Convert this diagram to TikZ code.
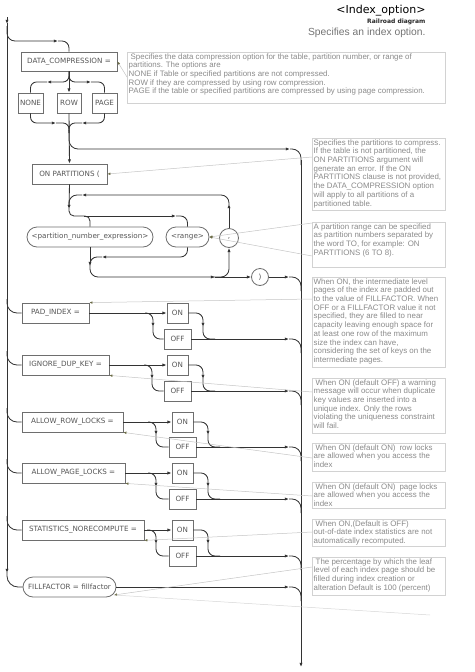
\documentclass[tikz,border=0pt]{standalone}
\usepackage{fontspec}
\setmainfont{DejaVu Sans}
\newfontfamily\notefont{Liberation Sans}
\usetikzlibrary{arrows.meta,shapes.misc}
\definecolor{railc}{HTML}{333333}
\definecolor{boxc}{HTML}{6E6E6E}
\definecolor{boxt}{HTML}{555555}
\definecolor{notec}{HTML}{D2D2D2}
\definecolor{notet}{HTML}{8A8A8A}
\definecolor{connc}{HTML}{C4C4C4}
\definecolor{arrc}{HTML}{6B6B45}
\begin{document}
\begin{tikzpicture}[x=1pt,y=-1pt,
  >={Latex[length=4.2pt,width=3.3pt]},
  rail/.style={draw=railc,line width=0.85pt},
  term/.style={draw=boxc,line width=0.8pt,text=boxt,font=\fontsize{7.2}{8}\selectfont,inner sep=0pt,minimum height=20pt},
  pill/.style={term,rounded rectangle},
  ring/.style={term,circle,minimum size=#1},
  notebox/.style={draw=notec,line width=0.6pt,inner sep=0pt,anchor=north west},
  notetext/.style={font=\notefont\fontsize{7.9}{8.7}\selectfont,text=notet,align=left,inner xsep=1.5pt,inner ysep=1.2pt,anchor=north west},
  conn/.style={draw=connc,line width=0.5pt,-{Latex[length=3pt,width=2.6pt,color=arrc]}}]
\useasboundingbox (0,0) rectangle (474,672);

% titles
\node[anchor=east,font=\fontsize{11}{13}\selectfont] (title) at (429,11) {<Index\_option>};
\node[anchor=east,font=\bfseries\fontsize{6}{7}\selectfont,text=black!85] (sub) at (429,22) {Railroad diagram};
\node[anchor=east,font=\notefont\fontsize{10.3}{12}\selectfont,text=black!55] (desc) at (429,33) {Specifies an index option.};

% terms
\node[term,minimum width=96pt,minimum height=19pt] (dc) at (69,61.5) {DATA\_COMPRESSION =};
\node[term,minimum width=25pt] (none) at (30.5,103) {NONE};
\node[term,minimum width=24pt] (row) at (69,103) {ROW};
\node[term,minimum width=25pt] (page) at (104.5,103) {PAGE};
\node[term,minimum width=75pt] (onp) at (69.5,174) {ON PARTITIONS (};
\node[pill,minimum width=126pt] (pne) at (90,237) {<partition\_number\_expression>};
\node[pill,minimum width=43pt] (range) at (187.5,237) {<range>};
\node[ring=19pt] (comma) at (229,238) {,};
\node[ring=17pt] (paren) at (260,277) {)};

\node[term,minimum width=67pt] (pad) at (55.5,313) {PAD\_INDEX =};
\node[term,minimum width=21pt] (on1) at (177.5,313) {ON};
\node[term,minimum width=27pt] (off1) at (177.5,339) {OFF};
\node[term,minimum width=87pt] (idk) at (65.5,365) {IGNORE\_DUP\_KEY =};
\node[term,minimum width=21pt] (on2) at (177.5,365) {ON};
\node[term,minimum width=27pt] (off2) at (177.5,391) {OFF};
\node[term,minimum width=101pt] (arl) at (72.5,422) {ALLOW\_ROW\_LOCKS =};
\node[term,minimum width=21pt] (on3) at (182.5,422) {ON};
\node[term,minimum width=27pt] (off3) at (182.5,447) {OFF};
\node[term,minimum width=103pt] (apl) at (73.5,473) {ALLOW\_PAGE\_LOCKS =};
\node[term,minimum width=21pt] (on4) at (182.5,473) {ON};
\node[term,minimum width=27pt] (off4) at (182.5,499) {OFF};
\node[term,minimum width=122pt] (stat) at (83,530) {STATISTICS\_NORECOMPUTE =};
\node[term,minimum width=21pt] (on5) at (182.5,530) {ON};
\node[term,minimum width=27pt] (off5) at (182.5,556) {OFF};
\node[pill,minimum width=93pt] (fill) at (69.5,587) {FILLFACTOR = fillfactor};

% main lines
\coordinate (Ltop) at (7,17);
\coordinate (Rend) at (301,667);
\draw[rail,->] (Ltop) -- (7,24);
\draw[rail,->] (7,23) -- (7,573);
\draw[rail,rounded corners=11pt] (7,572) |- (fill.west);
\draw[rail,->] (301,160) -- (Rend);

% data compression
\draw[rail,rounded corners=8pt,->] (7,26) |- (58,41);
\draw[rail,rounded corners=7pt] (58,41) -| (dc.north);
\draw[rail,rounded corners=6pt,->] (dc.south) |- (47,82);
\draw[rail,rounded corners=6pt] (47,82) -| (none.north);
\draw[rail,->] (dc.south) -- (row.north);
\draw[rail,rounded corners=6pt,->] (dc.south) |- (91,82);
\draw[rail,rounded corners=6pt] (91,82) -| (page.north);
\draw[rail,rounded corners=6pt,->] (none.south) |- (56,123);
\draw[rail,rounded corners=6pt] (56,123) -| (69,133);
\draw[rail,rounded corners=6pt,->] (page.south) |- (82,123);
\draw[rail,rounded corners=6pt] (82,123) -| (69,133);
\draw[rail,->] (row.south) -- (onp.north);
\draw[rail,rounded corners=9pt,->] (69,130) |- (290,149);
\draw[rail,rounded corners=9pt] (290,149) -| (301,165);

% partitions loop
\draw[rail,->] (onp.south) -- (69,209);
\draw[rail,rounded corners=5pt] (69,208) |- (90,216) -- (pne.north);
\draw[rail,->] (84,216) -- (176,216);
\draw[rail,rounded corners=7pt] (176,216) -| (range.north);
\draw[rail,->] (comma.north) -- (229,204);
\draw[rail,rounded corners=8pt,->] (229,205) |- (82,195);
\draw[rail,rounded corners=8pt] (82,195) -| (69,207);
\draw[rail] (pne.south) -- (90,258);
\draw[rail,rounded corners=7pt,->] (range.south) |- (102,257);
\draw[rail,rounded corners=7pt] (102,257) -| (90,265);
\draw[rail,->] (90,258) -- (90,266);
\draw[rail,rounded corners=8pt,->] (90,265) |- (215,277);
\draw[rail,->] (215,277) -- (paren.west);
\draw[rail,rounded corners=8pt,->] (213,277) -| (comma.south);
\draw[rail,->] (paren.east) -- (289,277);
\draw[rail,rounded corners=9pt] (289,277) -| (301,291);

% options
\draw[rail,rounded corners=10pt] (7,299) |- (pad.west);
\draw[rail,->] (pad.east) -- (on1.west);
\draw[rail,rounded corners=7pt,->] (145,313) -| (153,327);
\draw[rail,rounded corners=7pt] (153,326) |- (off1.west);
\draw[rail,rounded corners=7pt,->] (on1.east) -| (203,327);
\draw[rail,rounded corners=7pt] (203,326) |- (215,339);
\draw[rail,->] (off1.east) -- (289,339);
\draw[rail,rounded corners=9pt] (289,339) -| (301,353);

\draw[rail,rounded corners=10pt] (7,351) |- (idk.west);
\draw[rail,->] (idk.east) -- (on2.west);
\draw[rail,rounded corners=7pt,->] (144,365) -| (152,379);
\draw[rail,rounded corners=7pt] (152,378) |- (off2.west);
\draw[rail,rounded corners=7pt,->] (on2.east) -| (203,379);
\draw[rail,rounded corners=7pt] (203,378) |- (215,391);
\draw[rail,->] (off2.east) -- (289,391);
\draw[rail,rounded corners=9pt] (289,391) -| (301,405);

\draw[rail,rounded corners=10pt] (7,408) |- (arl.west);
\draw[rail,->] (arl.east) -- (on3.west);
\draw[rail,rounded corners=7pt,->] (148,422) -| (156,435);
\draw[rail,rounded corners=7pt] (156,434) |- (off3.west);
\draw[rail,rounded corners=7pt,->] (on3.east) -| (208,435);
\draw[rail,rounded corners=7pt] (208,434) |- (220,447);
\draw[rail,->] (off3.east) -- (289,447);
\draw[rail,rounded corners=9pt] (289,447) -| (301,461);

\draw[rail,rounded corners=10pt] (7,459) |- (apl.west);
\draw[rail,->] (apl.east) -- (on4.west);
\draw[rail,rounded corners=7pt,->] (148,473) -| (156,487);
\draw[rail,rounded corners=7pt] (156,486) |- (off4.west);
\draw[rail,rounded corners=7pt,->] (on4.east) -| (208,487);
\draw[rail,rounded corners=7pt] (208,486) |- (220,499);
\draw[rail,->] (off4.east) -- (289,499);
\draw[rail,rounded corners=9pt] (289,499) -| (301,513);

\draw[rail,rounded corners=10pt] (7,516) |- (stat.west);
\draw[rail,->] (stat.east) -- (on5.west);
\draw[rail,rounded corners=7pt,->] (147,530) -| (156,544);
\draw[rail,rounded corners=7pt] (156,543) |- (off5.west);
\draw[rail,rounded corners=7pt,->] (on5.east) -| (208,544);
\draw[rail,rounded corners=7pt] (208,543) |- (220,556);
\draw[rail,->] (off5.east) -- (289,556);
\draw[rail,rounded corners=9pt] (289,556) -| (301,570);

\draw[rail,->] (fill.east) -- (289,587);
\draw[rail,rounded corners=9pt] (289,587) -| (301,601);

% notes
\node[notebox,minimum width=318pt,minimum height=51pt] (n1) at (127,52) {};
\node[notetext] (t1) at (n1.north west) {\hspace*{2pt}Specifies the data compression option for the table, partition number, or range of\\partitions. The options are\\NONE if Table or specified partitions are not compressed.\\ROW if they are compressed by using row compression.\\PAGE if the table or specified partitions are compressed by using page compression.};
\node[notebox,minimum width=133pt,minimum height=72pt] (n2) at (312,138) {};
\node[notetext] (t2) at (n2.north west) {Specifies the partitions to compress.\\If the table is not partitioned, the\\ON PARTITIONS argument will\\generate an error. If the ON\\PARTITIONS clause is not provided,\\the DATA\_COMPRESSION option\\will apply to all partitions of a\\partitioned table.};
\node[notebox,minimum width=133pt,minimum height=45pt] (n3) at (312,222) {};
\node[notetext] (t3) at (n3.north west) {A partition range can be specified\\as partition numbers separated by\\the word TO, for example: ON\\PARTITIONS (6 TO 8).};
\node[notebox,minimum width=133pt,minimum height=90pt] (n4) at (312,277) {};
\node[notetext] (t4) at (n4.north west) {When ON, the intermediate level\\pages of the index are padded out\\to the value of FILLFACTOR. When\\OFF or a FILLFACTOR value it not\\specified, they are filled to near\\capacity leaving enough space for\\at least one row of the maximum\\size the index can have,\\considering the set of keys on the\\intermediate pages.};
\node[notebox,minimum width=133pt,minimum height=55pt] (n5) at (312,378) {};
\node[notetext] (t5) at (n5.north west) {\hspace*{2pt}When ON (default OFF) a warning\\message will occur when duplicate\\key values are inserted into a\\unique index. Only the rows\\violating the uniqueness constraint\\will fail.};
\node[notebox,minimum width=133pt,minimum height=28pt] (n6) at (312,443) {};
\node[notetext] (t6) at (n6.north west) {\hspace*{2pt}When ON (default ON)\hspace*{4pt}row locks\\are allowed when you access the\\index};
\node[notebox,minimum width=133pt,minimum height=26pt] (n7) at (312,482) {};
\node[notetext] (t7) at (n7.north west) {\hspace*{2pt}When ON (default ON)\hspace*{4pt}page locks\\are allowed when you access the\\index};
\node[notebox,minimum width=133pt,minimum height=27pt] (n8) at (312,519) {};
\node[notetext] (t8) at (n8.north west) {\hspace*{2pt}When ON,(Default is OFF)\\out-of-date index statistics are not\\automatically recomputed.};
\node[notebox,minimum width=133pt,minimum height=38pt] (n9) at (312,557) {};
\node[notetext] (t9) at (n9.north west) {\hspace*{2pt}The percentage by which the leaf\\level of each index page should be\\filled during index creation or\\alteration Default is 100 (percent)};

% note connectors
\coordinate (k1) at (127,77);
\coordinate (k2) at (312,157);
\coordinate (k3a) at (312,223);
\coordinate (k3b) at (312,256);
\coordinate (k4) at (312,299);
\coordinate (k5) at (312,392);
\coordinate (k6) at (312,458);
\coordinate (k7) at (312,496);
\coordinate (k8) at (312,532);
\coordinate (k9) at (312,567);
\coordinate (k9b) at (430,615);
\coordinate (fse) at (114,595);
\draw[conn] (k1) -- (dc.east);
\draw[conn] (k2) -- (onp.east);
\draw[conn] (k3a) -- (range.east);
\draw[conn] (k3b) -- (range.east);
\draw[conn] (k4) -- (pad.north east);
\draw[conn] (k5) -- (idk.south east);
\draw[conn] (k6) -- (arl.south east);
\draw[conn] (k7) -- (apl.south east);
\draw[conn] (k8) -- (stat.south east);
\draw[conn] (k9) -- (fse);
\draw[draw=connc!70,line width=0.5pt] (fse) -- (k9b);
\end{tikzpicture}
\end{document}
